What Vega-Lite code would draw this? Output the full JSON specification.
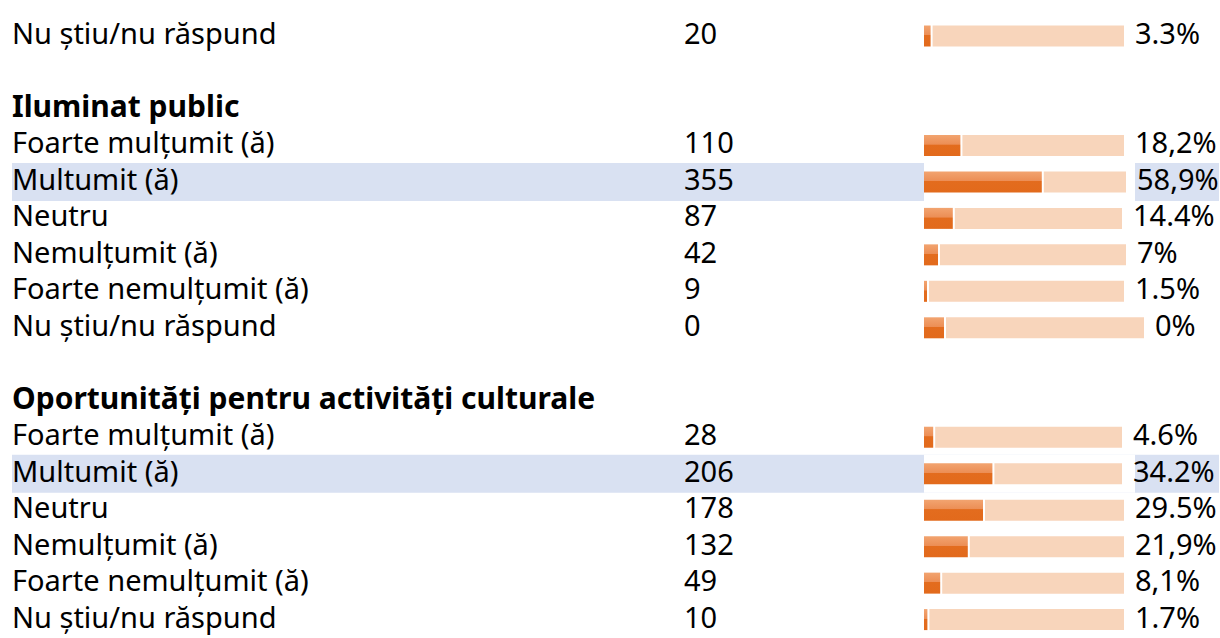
{
  "$schema": "https://vega.github.io/schema/vega-lite/v6.json",
  "width": 1220,
  "height": 638,
  "autosize": {"type": "none"},
  "padding": 0,
  "background": "white",
  "config": {"view": {"stroke": null}, "text": {"font": "Noto Sans", "fontSize": 29, "color": "#000000"}},
  "data": {"values": [
    {"row": 0, "kind": "item", "label": "Nu știu/nu răspund", "count": "20", "pct": "3.3%", "bar": 3.3, "track": 100, "hl": false},
    {"row": 2, "kind": "header", "label": "Iluminat public"},
    {"row": 3, "kind": "item", "label": "Foarte mulțumit (ă)", "count": "110", "pct": "18,2%", "bar": 18.2, "track": 100, "hl": false},
    {"row": 4, "kind": "item", "label": "Multumit (ă)", "count": "355", "pct": "58,9%", "bar": 58.9, "track": 101, "hl": true},
    {"row": 5, "kind": "item", "label": "Neutru", "count": "87", "pct": "14.4%", "bar": 14.4, "track": 99, "hl": false},
    {"row": 6, "kind": "item", "label": "Nemulțumit (ă)", "count": "42", "pct": "7%", "bar": 7, "track": 101, "hl": false},
    {"row": 7, "kind": "item", "label": "Foarte nemulțumit (ă)", "count": "9", "pct": "1.5%", "bar": 1.5, "track": 100, "hl": false},
    {"row": 8, "kind": "item", "label": "Nu știu/nu răspund", "count": "0", "pct": "0%", "bar": 10, "track": 110, "hl": false},
    {"row": 10, "kind": "header", "label": "Oportunități pentru activități culturale"},
    {"row": 11, "kind": "item", "label": "Foarte mulțumit (ă)", "count": "28", "pct": "4.6%", "bar": 4.6, "track": 99, "hl": false},
    {"row": 12, "kind": "item", "label": "Multumit (ă)", "count": "206", "pct": "34.2%", "bar": 34.2, "track": 99, "hl": true},
    {"row": 13, "kind": "item", "label": "Neutru", "count": "178", "pct": "29.5%", "bar": 29.5, "track": 100, "hl": false},
    {"row": 14, "kind": "item", "label": "Nemulțumit (ă)", "count": "132", "pct": "21,9%", "bar": 21.9, "track": 100, "hl": false},
    {"row": 15, "kind": "item", "label": "Foarte nemulțumit (ă)", "count": "49", "pct": "8,1%", "bar": 8.1, "track": 100, "hl": false},
    {"row": 16, "kind": "item", "label": "Nu știu/nu răspund", "count": "10", "pct": "1.7%", "bar": 1.7, "track": 100, "hl": false}
  ]},
  "encoding": {
    "y": {"field": "row", "type": "quantitative", "stack": null, "axis": null, "scale": {"domain": [0, 16], "range": [31, 624.6], "zero": false, "nice": false}}
  },
  "layer": [
    {
      "transform": [{"filter": "datum.hl"}],
      "mark": {"type": "bar", "orient": "horizontal", "size": 38, "color": "#D9E1F2"},
      "encoding": {
        "x": {"datum": -456, "type": "quantitative", "stack": null, "axis": null, "scale": {"domain": [-462, 148], "nice": false, "zero": false}}
      }
    },
    {
      "transform": [{"filter": "datum.hl"}],
      "mark": {"type": "bar", "orient": "horizontal", "size": 38, "color": "#D9E1F2"},
      "encoding": {
        "x": {"datum": 147.5, "type": "quantitative", "stack": null}
      }
    },
    {
      "transform": [{"filter": "datum.hl"}],
      "mark": {"type": "bar", "orient": "horizontal", "size": 38, "color": "#FFFFFF"},
      "encoding": {
        "x": {"datum": 105.5, "type": "quantitative", "stack": null}
      }
    },
    {
      "transform": [{"filter": "datum.kind == 'item'"}],
      "mark": {"type": "bar", "orient": "horizontal", "size": 21, "color": "#F8D5BB", "xOffset": 2},
      "encoding": {
        "x": {"field": "bar", "type": "quantitative", "stack": null},
        "x2": {"field": "track"}
      }
    },
    {
      "transform": [{"filter": "datum.kind == 'item'"}],
      "mark": {"type": "bar", "orient": "horizontal", "size": 21,
        "color": {"gradient": "linear", "x1": 0, "y1": 0, "x2": 0, "y2": 1,
          "stops": [{"offset": 0, "color": "#F2A470"}, {"offset": 0.45, "color": "#EC8E55"}, {"offset": 0.47, "color": "#E36C1E"}, {"offset": 1, "color": "#E26A1C"}]}},
      "encoding": {
        "x": {"field": "bar", "type": "quantitative", "stack": null}
      }
    },
    {
      "transform": [{"filter": "datum.kind == 'item'"}],
      "mark": {"type": "text", "align": "left", "baseline": "middle", "dy": -1},
      "encoding": {
        "x": {"datum": -456, "type": "quantitative"},
        "text": {"field": "label", "type": "nominal"}
      }
    },
    {
      "transform": [{"filter": "datum.kind == 'header'"}],
      "mark": {"type": "text", "align": "left", "baseline": "middle", "fontWeight": "bold", "fontSize": 30, "dy": -1},
      "encoding": {
        "x": {"datum": -456, "type": "quantitative"},
        "text": {"field": "label", "type": "nominal"}
      }
    },
    {
      "transform": [{"filter": "datum.kind == 'item'"}],
      "mark": {"type": "text", "align": "left", "baseline": "middle", "dy": -1},
      "encoding": {
        "x": {"datum": -120, "type": "quantitative"},
        "text": {"field": "count", "type": "nominal"}
      }
    },
    {
      "transform": [{"filter": "datum.kind == 'item'"}],
      "mark": {"type": "text", "align": "left", "baseline": "middle", "dx": 11, "dy": -1},
      "encoding": {
        "x": {"field": "track", "type": "quantitative"},
        "text": {"field": "pct", "type": "nominal"}
      }
    }
  ]
}
